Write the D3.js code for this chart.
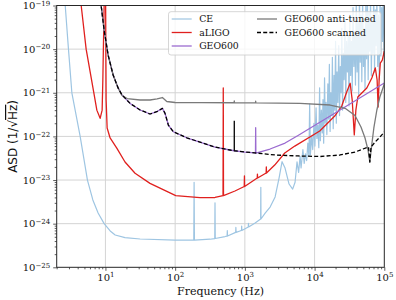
<!DOCTYPE html>
<html><head><meta charset="utf-8">
<script src="https://cdn.jsdelivr.net/npm/d3@7"></script>
<style>body{margin:0;background:#fff}svg{display:block}</style>
</head><body>
<svg id="chart" width="396" height="300"></svg>
<script>
// ---------- data (frequency in Hz, ASD in 1/sqrt(Hz)) ----------
const ceLow = [[2.2,1e-17],[2.65,1e-19],[2.95,1e-20],[3.30,1e-21],[4.34,1e-22],[5.52,1e-23],[6.60,3.5e-24],[7.85,1.75e-24],[9.58,1e-24],[11.7,6.8e-25],[13.8,5.5e-25],[19.1,4.8e-25],[31.4,4.45e-25],[100,4.2e-25],[185,4.2e-25],[187,8.9e-24],[189,4.2e-25],[316,4.4e-25],[370,4.55e-25],[373,3.0e-24],[376,4.57e-25],[519,5.07e-25],[556,5.2e-25],[560,6.9e-25],[564,5.2e-25],[738,6.3e-25],[743,8.2e-25],[748,6.3e-25],[851,6.8e-25],[895,7.0e-25],[900,8.8e-25],[905,7.0e-25],[1120,8.4e-25],[1126,1.02e-24],[1132,8.4e-25],[1403,1.04e-24],[1685,1.28e-24],[1694,6.8e-24],[1703,1.28e-24],[1954,1.75e-24],[2303,2.4e-24],[2716,4.1e-24],[3093,1.11e-23],[3415,2.63e-23],[3770,1.88e-23],[4302,8.1e-24],[4845,6.2e-24]];
const ceHigh = [[5248,8.9e-24],[5600,2.6e-23],[5900,1.5e-23],[6200,3.5e-23],[6400,1.9e-23],[6800,5.0e-23],[7100,2.4e-23],[7400,4.0e-23],[7700,2.8e-23],[8000,7.0e-23],[8300,3.5e-23],[8500,5.6e-22],[8700,3.8e-23],[9100,1.0e-22],[9400,5.0e-23],[9800,2.0e-22],[10100,6.0e-23],[10500,4.5e-22],[10800,9.0e-23],[11100,1.8e-22],[11500,5.5e-23],[11800,1.3e-21],[12100,8.0e-23],[12500,4.0e-22],[12900,1.2e-22],[13200,7.0e-22],[13500,7.0e-23],[13900,2.2e-21],[14200,2.0e-22],[14600,6.0e-22],[15000,1.1e-22],[15500,1.6e-21],[15900,2.5e-22],[16300,4.5e-21],[16700,1.3e-22],[17100,1.0e-21],[17600,3.0e-22],[18000,6.5e-21],[18500,1.5e-22],[19000,2.5e-21],[19500,4.0e-22],[20000,1.5e-20],[20500,2.0e-22],[21000,3.0e-21],[21600,6.0e-22],[22200,1.2e-20],[22800,3.0e-22],[23400,4.0e-21],[24000,1.0e-21],[24600,3.0e-20],[25200,4.0e-22],[25900,8.0e-21],[26600,2.0e-21],[27300,4.5e-20],[28000,6.0e-22],[28800,1.5e-20],[29600,3.0e-21],[30400,2.0e-20],[31200,5.0e-22],[32000,6.0e-20],[32900,2.5e-21],[33800,1.5e-20],[34700,1.1e-21],[35600,9.0e-20],[36600,4.0e-21],[37600,2.5e-20],[38600,1.5e-21],[39600,1.2e-19],[40700,3.0e-21],[41800,4.0e-20],[42900,8.0e-22],[44000,2.0e-19],[45200,5.0e-21],[46400,6.0e-20],[47600,1.8e-21],[48900,1.5e-19],[50200,4.0e-21],[51500,3.0e-20],[52900,1.2e-21],[54300,1.0e-19],[55700,6.0e-21],[57200,2.0e-19],[58700,2.0e-21],[60300,7.0e-20],[61900,9.0e-21],[63500,1.5e-19],[65200,2.5e-21],[66900,5.0e-20],[68700,8.0e-21],[70500,2.0e-19],[72400,3.0e-21],[74300,8.0e-20],[76300,1.2e-20],[78300,1.5e-19],[80400,4.0e-21],[82500,6.0e-20],[84700,2.0e-21],[87000,2.0e-19],[89300,7.0e-21],[91700,9.0e-20],[94100,1.5e-20],[96600,2.0e-19],[99200,8.0e-21],[100000,3.0e-20]];
const aligo = [[3.8,3e-18],[4.49,1e-19],[5.29,1e-20],[6.82,1e-21],[7.53,4.0e-22],[8.40,2.6e-22],[8.97,4.0e-22],[9.18,1.96e-21],[9.58,1e-19],[9.85,1e-17],[10.07,1e-19],[10.23,6.8e-22],[10.58,1.56e-22],[11.67,9.2e-23],[14.55,5.4e-23],[19.1,2.59e-23],[26.6,1.43e-23],[43.6,8.4e-24],[102,4.38e-24],[227,3.94e-24],[373,3.98e-24],[486,4.4e-24],[490,1.29e-21],[494,4.4e-24],[721,5.6e-24],[980,7.1e-24],[986,1.24e-23],[992,7.1e-24],[1505,1.11e-23],[1514,1.37e-23],[1523,1.11e-23],[2020,1.45e-23],[2032,1.99e-23],[2044,1.45e-23],[2678,2.2e-23],[3735,4.16e-23],[5200,6.0e-23],[11860,1.33e-22],[19450,2.93e-22],[24500,4.97e-22],[28900,1.04e-21],[32400,1.65e-21],[34650,6.8e-22],[37100,1.08e-22],[39100,4.0e-22],[41700,8.0e-22],[47600,9.9e-22],[56100,1.29e-21],[66200,2.18e-21],[74300,3.7e-21],[78900,1.96e-21],[81500,4.7e-22],[84300,1.96e-21],[87700,4.8e-21],[93600,5.6e-21],[100000,9e-21]];
const geoCommon = [[8.0,1.8e-19],[8.68,1e-19],[9.58,2.74e-20],[10.93,7.3e-21],[12.9,2.55e-21],[15.2,1.29e-21]];
const geoTunedMid = [[17.3,8.9e-22],[22.6,5.7e-22],[31.4,4.03e-22],[43.6,3.26e-22],[54.5,3.68e-22],[65.6,4.4e-22],[71.6,3.38e-22],[79.9,1.82e-22],[94.2,1.28e-22],[146.6,9.3e-23],[227,7.4e-23],[373,5.7e-23],[612,4.88e-23],[705,4.69e-23],[1000,4.38e-23],[1380,4.2e-23]];
const geo600High = [[1420,4.16e-23],[1429,1.58e-22],[1438,4.16e-23],[2300,5.14e-23],[3775,7.05e-23],[5790,1.05e-22],[23200,4.03e-22],[100000,1.67e-21]];
const scannedSpike = [[705,4.69e-23],[705,2.29e-22]];
const scannedHigh = [[1452,4.16e-23],[2716,3.75e-23],[5800,3.56e-23],[12000,3.46e-23],[23200,3.75e-23],[38000,4.38e-23],[49500,5.14e-23],[59400,5.7e-23],[62000,2.59e-23],[64500,5.7e-23],[73600,7.4e-23],[86800,9.7e-23],[100000,1.26e-22]];
const antiTuned = [[17.3,8.65e-22],[20.5,7.38e-22],[31.4,6.83e-22],[43.6,6.83e-22],[55.1,7.28e-22],[65.6,7.78e-22],[75.9,6.31e-22],[99.7,5.98e-22],[227,5.92e-22],[700,5.9e-22],[705,6.5e-22],[710,5.9e-22],[1420,5.85e-22],[1429,6.4e-22],[1438,5.85e-22],[6170,5.73e-22],[16700,5.24e-22],[27400,4.4e-22],[38000,3.01e-22],[46300,1.64e-22],[52900,9.2e-23],[58400,4.88e-23],[62000,2.59e-23],[65200,5.4e-23],[70800,1.56e-22],[78200,4.03e-22],[86300,8.0e-22],[100000,1.59e-21]];

const seriesNames = ["CE","aLIGO","GEO600","GEO600 anti-tuned","GEO600 scanned"];
const xMajorTicks = [10,100,1000,10000,100000];
const yMajorTicks = [1e-25,1e-24,1e-23,1e-22,1e-21,1e-20,1e-19];
const xLabel = "Frequency (Hz)";

// ---------- assemble ----------
const byF = (a,b)=>a[0]-b[0];
const seriesData = [
  ceLow.concat(ceHigh),
  aligo,
  geoCommon.concat(geoTunedMid, geo600High).sort(byF),
  geoCommon.concat(antiTuned).sort(byF),
  geoCommon.concat(geoTunedMid, scannedHigh).sort(byF)
];
const styles = [
  {color:"#9ec5e2", w:1.2, dash:null},
  {color:"#e0201e", w:1.3, dash:null},
  {color:"#9b6bd0", w:1.3, dash:null},
  {color:"#7a7a7a", w:1.3, dash:null},
  {color:"#000000", w:1.3, dash:"4,2.2"}
];

// ---------- layout ----------
const L=56.7, R=384.3, T=5.5, B=267.3;
const svg = d3.select("#chart");
const x = d3.scaleLog().domain([2,1e5]).range([L,R]);
const y = d3.scaleLog().domain([1e-25,1e-19]).range([B,T]);

svg.append("defs").append("clipPath").attr("id","clip")
  .append("rect").attr("x",L).attr("y",T).attr("width",R-L).attr("height",B-T);

// grid
const grid = svg.append("g").attr("stroke","#d4d4d4").attr("stroke-width",1);
grid.selectAll("line.gx").data(xMajorTicks.filter(d=>d<1e5)).join("line")
  .attr("x1",d=>x(d)).attr("x2",d=>x(d)).attr("y1",T).attr("y2",B);
grid.selectAll("line.gy").data(yMajorTicks.slice(1,-1)).join("line")
  .attr("y1",d=>y(d)).attr("y2",d=>y(d)).attr("x1",L).attr("x2",R);

// minor tick values
const xMinor=[], yMinor=[];
for(let e=0;e<5;e++) for(let m=2;m<10;m++){const v=m*Math.pow(10,e); if(v>=2&&v<=1e5) xMinor.push(v);}
for(let e=-25;e<-19;e++) for(let m=2;m<10;m++) yMinor.push(m*Math.pow(10,e));

function powLabel(sel){
  sel.each(function(d){
    const e = Math.round(Math.log10(d));
    const t = d3.select(this).text(null);
    t.append("tspan").text("10");
    t.append("tspan").attr("dy","-0.5em").attr("font-size","7px").text(e<0?"\u2212"+(-e):String(e));
  });
}
const fontSerif = "'DejaVu Serif', serif";

// x axis
const gx = svg.append("g").attr("transform",`translate(0,${B})`)
  .call(d3.axisBottom(x).tickValues(xMajorTicks).tickSize(3.5).tickPadding(3).tickSizeOuter(0));
gx.select(".domain").remove();
gx.selectAll("text").attr("font-family",fontSerif).attr("font-size","10px").attr("fill","#111").call(powLabel);
const gxm = svg.append("g").attr("transform",`translate(0,${B})`)
  .call(d3.axisBottom(x).tickValues(xMinor).tickSize(2).tickFormat("").tickSizeOuter(0));
gxm.select(".domain").remove();

// y axis
const gy = svg.append("g").attr("transform",`translate(${L},0)`)
  .call(d3.axisLeft(y).tickValues(yMajorTicks).tickSize(3.5).tickPadding(3).tickSizeOuter(0));
gy.select(".domain").remove();
gy.selectAll("text").attr("font-family",fontSerif).attr("font-size","10px").attr("fill","#111").call(powLabel);
const gym = svg.append("g").attr("transform",`translate(${L},0)`)
  .call(d3.axisLeft(y).tickValues(yMinor).tickSize(2).tickFormat("").tickSizeOuter(0));
gym.select(".domain").remove();
svg.selectAll(".tick line").attr("stroke","#333").attr("stroke-width",0.8);

// lines
const line = d3.line().x(d=>x(d[0])).y(d=>y(d[1]));
const plot = svg.append("g").attr("clip-path","url(#clip)");
seriesData.forEach((data,i)=>{
  const s = styles[i];
  plot.append("path").datum(data).attr("d",line).attr("fill","none")
    .attr("stroke",s.color).attr("stroke-width",s.w)
    .attr("stroke-dasharray",s.dash).attr("stroke-linejoin","round");
});
// narrow line in the scanned curve (drawn solid, as in the source)
plot.append("path").datum(scannedSpike).attr("d",line).attr("fill","none")
  .attr("stroke",styles[4].color).attr("stroke-width",styles[4].w);

// frame
svg.append("rect").attr("x",L).attr("y",T).attr("width",R-L).attr("height",B-T)
  .attr("fill","none").attr("stroke","#262626").attr("stroke-width",1);

// legend
const lg = svg.append("g");
lg.append("rect").attr("x",168.5).attr("y",11.7).attr("width",212.5).attr("height",43.3).attr("rx",2.5)
  .attr("fill","#fff").attr("fill-opacity",0.8).attr("stroke","#cccccc").attr("stroke-width",0.8);
const legPos = [[171.7,19],[171.7,32.5],[171.7,46],[257,19],[257,32.5]];
seriesNames.forEach((name,i)=>{
  const [lx,ly] = legPos[i], s = styles[i];
  lg.append("line").attr("x1",lx).attr("x2",lx+20).attr("y1",ly).attr("y2",ly)
    .attr("stroke",s.color).attr("stroke-width",s.w).attr("stroke-dasharray",s.dash);
  lg.append("text").attr("x",lx+27.5).attr("y",ly+3.4).attr("font-family",fontSerif)
    .attr("font-size","9.3px").attr("fill","#111").text(name);
});

// axis labels
svg.append("text").attr("x",(L+R)/2).attr("y",294.5).attr("text-anchor","middle")
  .attr("font-family",fontSerif).attr("font-size","11px").attr("fill","#111").text(xLabel);
const yl = svg.append("text").attr("transform",`translate(17,${(T+B)/2}) rotate(-90)`)
  .attr("text-anchor","middle").attr("font-family","'DejaVu Sans', sans-serif").attr("font-size","12px").attr("fill","#111");
yl.append("tspan").text("ASD (1/\u221A");
yl.append("tspan").attr("text-decoration","overline").text("Hz");
yl.append("tspan").text(")");
</script>
</body></html>
